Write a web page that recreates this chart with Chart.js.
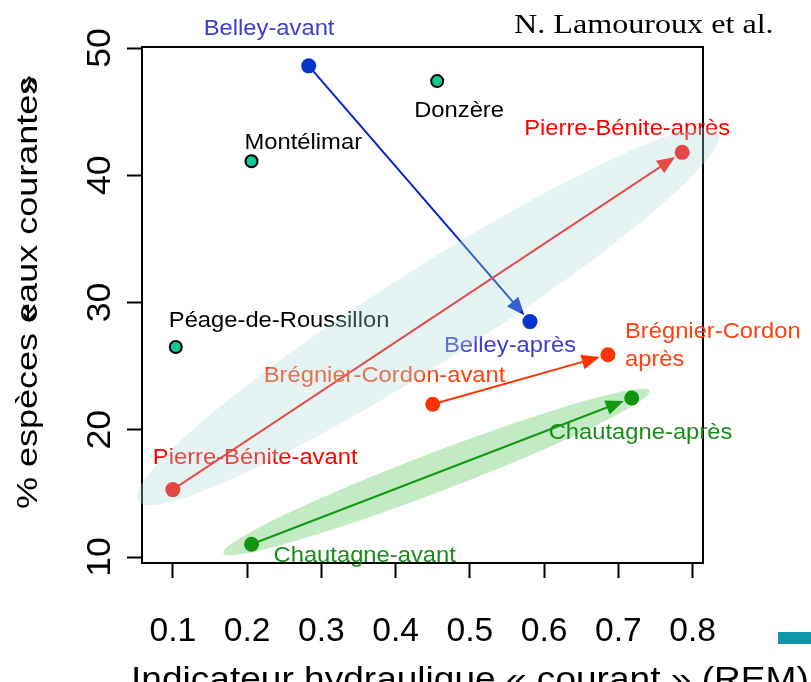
<!DOCTYPE html>
<html>
<head>
<meta charset="utf-8">
<script src="https://cdn.jsdelivr.net/npm/chart.js@4"></script>
<style>
  html, body { margin: 0; padding: 0; background: #fff; }
  #plot { display: block; }
</style>
</head>
<body>
<canvas id="plot" width="811" height="682"></canvas>
<script>
const sites = ['Belley-avant', 'Belley-après', 'Donzère', 'Montélimar', 'Péage-de-Roussillon',
  'Pierre-Bénite-avant', 'Pierre-Bénite-après', 'Brégnier-Cordon-avant', 'Brégnier-Cordon-après',
  'Chautagne-avant', 'Chautagne-après'];
const siteGroups = ['belley', 'belley', 'other', 'other', 'other',
  'pierre', 'pierre', 'bregnier', 'bregnier', 'chautagne', 'chautagne'];
// REM indicator (x) and % rheophilic species (y)
const remValues = [0.283, 0.581, 0.456, 0.206, 0.104, 0.100, 0.786, 0.450, 0.686, 0.206, 0.718];
const pctValues = [48.6, 28.5, 47.4, 41.1, 26.5, 15.3, 41.8, 22.0, 25.9, 11.0, 22.5];
const siteLabels = [['Belley-avant'], ['Belley-après'], ['Donzère'], ['Montélimar'], ['Péage-de-Roussillon'],
  ['Pierre-Bénite-avant'], ['Pierre-Bénite-après'], ['Brégnier-Cordon-avant'], ['Brégnier-Cordon', 'après'],
  ['Chautagne-avant'], ['Chautagne-après']];
// before -> after arrows
const arrows = [['Belley-avant', 'Belley-après'], ['Pierre-Bénite-avant', 'Pierre-Bénite-après'],
  ['Brégnier-Cordon-avant', 'Brégnier-Cordon-après'], ['Chautagne-avant', 'Chautagne-après']];
// envelopes: ends of the long axis, in data units
const tealEnvelope = [[0.053, 14.4], [0.835, 43.45]];
const greenEnvelope = [[0.168, 10.3], [0.742, 23.07]];
const xTicks = [0.1, 0.2, 0.3, 0.4, 0.5, 0.6, 0.7, 0.8];
const yTicks = [10, 20, 30, 40, 50];
const xTitle = 'Indicateur hydraulique « courant » (REM)';
const yTitle = '% espèces « eaux courantes »';
const credit = 'N. Lamouroux et al.';

const styles = {
  other: { fill: '#14c896', border: '#000', r: 6, bw: 2, label: '#000' },
  belley: { fill: '#0633cc', border: '#0633cc', r: 7.5, bw: 0, line: '#0424cc', label: '#3c3cd2' },
  pierre: { fill: '#ff0000', border: '#ff0000', r: 7.5, bw: 0, line: '#ff0a0a', label: '#ff0000' },
  bregnier: { fill: '#ff3300', border: '#ff3300', r: 7.5, bw: 0, line: '#ff3300', label: '#ff4010' },
  chautagne: { fill: '#119411', border: '#119411', r: 7.5, bw: 0, line: '#119911', label: '#1a8c1a' }
};
// label left edge / middle offset from its point, in px
const labelPlacement = {
  'Belley-avant': [-105, -37], 'Belley-après': [-86, 24], 'Donzère': [-23, 30],
  'Montélimar': [-7, -18], 'Péage-de-Roussillon': [-7, -26],
  'Pierre-Bénite-avant': [-20, -32], 'Pierre-Bénite-après': [-158, -23],
  'Brégnier-Cordon-avant': [-169, -28], 'Brégnier-Cordon-après': [17, -23],
  'Chautagne-avant': [22, 12], 'Chautagne-après': [-83, 35]
};

function txt(ctx, s, x, y, o) {
  ctx.save();
  ctx.translate(x, y);
  if (o.rot) ctx.rotate(o.rot);
  ctx.scale(o.sx || 1, 1);
  ctx.font = o.font;
  ctx.fillStyle = o.color || '#000';
  ctx.textAlign = o.align || 'left';
  ctx.textBaseline = o.base || 'middle';
  ctx.fillText(s, 0, 0);
  ctx.restore();
}

function ellipse(ctx, xs, ys, ends, halfWidth, color) {
  const x1 = xs.getPixelForValue(ends[0][0]), y1 = ys.getPixelForValue(ends[0][1]);
  const x2 = xs.getPixelForValue(ends[1][0]), y2 = ys.getPixelForValue(ends[1][1]);
  ctx.save();
  ctx.fillStyle = color;
  ctx.beginPath();
  ctx.ellipse((x1 + x2) / 2, (y1 + y2) / 2, Math.hypot(x2 - x1, y2 - y1) / 2, halfWidth,
    Math.atan2(y2 - y1, x2 - x1), 0, Math.PI * 2);
  ctx.fill();
  ctx.restore();
}

function arrow(ctx, x1, y1, x2, y2, color) {
  const a = Math.atan2(y2 - y1, x2 - x1);
  const c = Math.cos(a), s = Math.sin(a);
  const tx = x2 - 8.5 * c, ty = y2 - 8.5 * s;
  const bx = tx - 18 * c, by = ty - 18 * s;
  ctx.save();
  ctx.strokeStyle = color;
  ctx.fillStyle = color;
  ctx.lineWidth = 2;
  ctx.beginPath();
  ctx.moveTo(x1, y1);
  ctx.lineTo(bx + 2 * c, by + 2 * s);
  ctx.stroke();
  ctx.beginPath();
  ctx.moveTo(tx, ty);
  ctx.lineTo(bx - 7.5 * s, by + 7.5 * c);
  ctx.lineTo(bx + 7.5 * s, by - 7.5 * c);
  ctx.closePath();
  ctx.fill();
  ctx.restore();
}

const pix = (chart, name) => {
  const i = sites.indexOf(name);
  return [chart.scales.x.getPixelForValue(remValues[i]), chart.scales.y.getPixelForValue(pctValues[i])];
};

const decor = {
  id: 'decor',
  beforeDatasetsDraw(chart) {
    const { ctx, chartArea: a, scales: { x, y } } = chart;
    ctx.save();
    ctx.strokeStyle = '#000';
    ctx.lineWidth = 2;
    ctx.strokeRect(a.left, a.top, a.right - a.left, a.bottom - a.top);
    ctx.restore();
    ellipse(ctx, x, y, greenEnvelope, 19.5, '#c3ebc3');
    for (const [from, to] of arrows) {
      const [x1, y1] = pix(chart, from);
      const [x2, y2] = pix(chart, to);
      arrow(ctx, x1, y1, x2, y2, styles[siteGroups[sites.indexOf(from)]].line);
    }
  },
  afterDatasetsDraw(chart) {
    const { ctx, scales: { x, y } } = chart;
    sites.forEach((name, i) => {
      const [px, py] = pix(chart, name);
      const [dx, dy] = labelPlacement[name];
      siteLabels[i].forEach((line, k) => {
        txt(ctx, line, px + dx, py + dy + k * 28.5,
          { font: '22px "Liberation Sans", Arial, sans-serif', color: styles[siteGroups[i]].label, sx: 1.08 });
      });
    });
    ellipse(ctx, x, y, tealEnvelope, 47, 'rgba(174, 222, 218, 0.32)');
  },
  afterDraw(chart) {
    const { ctx, scales: { x, y } } = chart;
    for (const v of xTicks) {
      txt(ctx, v.toFixed(1), x.getPixelForValue(v), 641,
        { font: '33px "Liberation Sans", Arial, sans-serif', align: 'center', base: 'alphabetic', sx: 1.02 });
    }
    for (const v of yTicks) {
      txt(ctx, String(v), 110, y.getPixelForValue(v),
        { font: '34px "Liberation Sans", Arial, sans-serif', align: 'center', base: 'alphabetic', rot: -Math.PI / 2, sx: 1.05 });
    }
    txt(ctx, xTitle, 131, 690,
      { font: '34px "Liberation Sans", Arial, sans-serif', base: 'alphabetic', sx: 1.09 });
    // y title: the guillemets sit on top of the neighbouring letters, as in the figure
    const yf = '30px "Liberation Sans", Arial, sans-serif';
    const sy = 1.2;
    ctx.save();
    ctx.font = yf;
    const plain = yTitle.replace('« ', '').replace(' »', '');
    const w1 = ctx.measureText('% espèces ').width * sy;
    const w2 = ctx.measureText(plain.slice(0, -1)).width * sy;
    ctx.restore();
    const y0 = 509;
    txt(ctx, plain, 37, y0, { font: yf, base: 'alphabetic', sx: sy, rot: -Math.PI / 2 });
    txt(ctx, '«', 37, y0 - w1, { font: yf, base: 'alphabetic', sx: sy, rot: -Math.PI / 2 });
    txt(ctx, '»', 37, y0 - w2, { font: yf, base: 'alphabetic', sx: sy, rot: -Math.PI / 2 });
    txt(ctx, credit, 514, 33,
      { font: '27px "Liberation Serif", "Times New Roman", serif', base: 'alphabetic', sx: 1.19 });
    ctx.save();
    ctx.fillStyle = '#0e97a8';
    ctx.fillRect(778, 632, 33, 12);
    ctx.restore();
  }
};

const datasets = Object.keys(styles).map(g => {
  const idx = sites.map((s, i) => i).filter(i => siteGroups[i] === g);
  const st = styles[g];
  return {
    label: g,
    data: idx.map(i => ({ x: remValues[i], y: pctValues[i] })),
    backgroundColor: st.fill,
    borderColor: st.border,
    borderWidth: st.bw,
    pointRadius: st.r,
    pointHoverRadius: st.r,
    clip: false
  };
});

const axisGrid = { display: true, drawOnChartArea: false, drawTicks: true, tickLength: 15, tickWidth: 2, tickColor: '#000' };

new Chart(document.getElementById('plot').getContext('2d'), {
  type: 'scatter',
  data: { datasets },
  options: {
    responsive: false,
    animation: false,
    events: [],
    layout: { padding: { left: 127, right: 108, top: 47, bottom: 104 } },
    plugins: { legend: { display: false }, tooltip: { enabled: false } },
    scales: {
      x: {
        type: 'linear', min: 0.0585, max: 0.814,
        afterBuildTicks: s => { s.ticks = xTicks.map(v => ({ value: v })); },
        ticks: { display: false },
        grid: axisGrid,
        border: { display: false }
      },
      y: {
        type: 'linear', min: 9.53, max: 50.08,
        afterBuildTicks: s => { s.ticks = yTicks.map(v => ({ value: v })); },
        ticks: { display: false },
        grid: axisGrid,
        border: { display: false }
      }
    }
  },
  plugins: [decor]
});
</script>
</body>
</html>
